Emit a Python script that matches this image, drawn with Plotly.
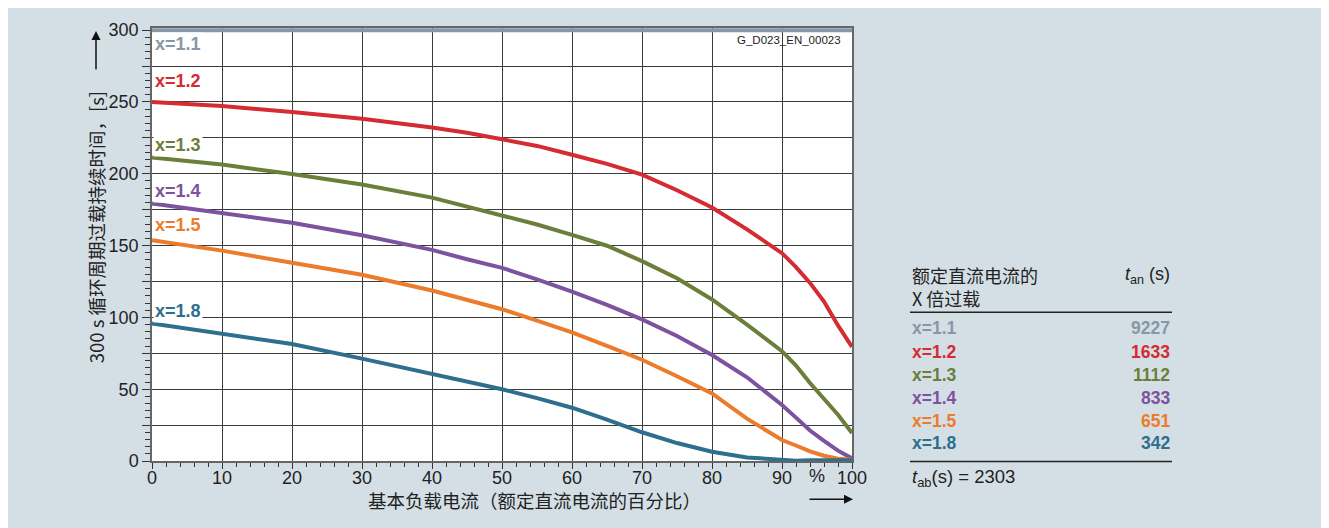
import plotly.graph_objects as go

# ---------------------------------------------------------------- data

load_pct = [0, 10, 20, 30, 40, 45, 50, 55, 60, 65, 70, 75, 80, 85, 90, 92, 94, 96, 98, 100]

t_x11 = [300] * len(load_pct)
t_x12 = [250, 247.2, 243, 238.3, 232.2, 228.5, 224, 219.4, 213.2, 206.9, 199.4,
         188.5, 176.5, 161.3, 144.7, 135, 124, 111, 94.4, 79.5]
t_x13 = [211.4, 206.4, 199.8, 192.5, 183.4, 177.2, 171.5, 164.7, 157.4, 149.9, 139.2,
         127.3, 112.5, 95, 76.5, 66.5, 54.3, 43.1, 32.2, 19.5]
t_x14 = [179.3, 172.7, 165.9, 157.2, 147, 140.5, 134.5, 126.5, 118, 108.7, 98.6,
         87.1, 73.8, 58.3, 39, 30.2, 21.2, 14, 7.2, 1.8]
t_x15 = [153.8, 146.5, 138, 129.7, 118.7, 112.5, 105.7, 97.8, 89.5, 80.2, 70.5,
         59, 47, 29.5, 14.6, 10.8, 6.7, 3.7, 1.6, 0.8]
t_x18 = [95.7, 88.8, 81.5, 71.3, 61, 55.5, 50, 43.8, 37.1, 28.8, 20,
         12.5, 6.4, 2.5, 0.7, 0.2, 0.6, 0.7, 0.6, 0.5]

factor_labels = ["x=1.1", "x=1.2", "x=1.3", "x=1.4", "x=1.5", "x=1.8"]
t_an = [9227, 1633, 1112, 833, 651, 342]
t_ab = 2303

x_ticks = list(range(0, 101, 10))
y_ticks = list(range(0, 301, 25))
y_ticktext = [str(v) if v % 50 == 0 else "" for v in y_ticks]

# ---------------------------------------------------------------- style

colors = ["#8698a8", "#d52b32", "#6b7f3b", "#7d529e", "#ec7b2c", "#2e6e8e"]
BG = "#d4dfe5"
INK = "#222"
NUM_FONT = "Liberation Sans, Arial, sans-serif"
CJK_FONT = "Noto Sans CJK SC, sans-serif"

PAGE = 8  # default body margin of the html page
W, H = 1329 - PAGE, 528 - PAGE
PLOT_X0, PLOT_X1, PLOT_Y0, PLOT_Y1 = 152, 852, 20, 461   # page pixels
L, T = PLOT_X0 - PAGE, PLOT_Y0 - PAGE
R, B = W + PAGE - PLOT_X1, H + PAGE - PLOT_Y1


def px(x):  # page column -> paper x
    return (x - PLOT_X0) / (PLOT_X1 - PLOT_X0)


def py(y):  # page row -> paper y
    return (PLOT_Y1 - y) / (PLOT_Y1 - PLOT_Y0)


def note(x, y, text, size=18, color=INK, family=NUM_FONT, xanchor="center", **kw):
    return dict(x=px(x), y=py(y), xref="paper", yref="paper", text=text,
                xanchor=xanchor, yanchor="middle", showarrow=False,
                font=dict(family=family, size=size, color=color), **kw)


fig = go.Figure()
for ys, c in zip([t_x11, t_x12, t_x13, t_x14, t_x15, t_x18], colors):
    fig.add_trace(go.Scatter(x=load_pct, y=ys, mode="lines",
                             line=dict(color=c, width=4), showlegend=False,
                             hoverinfo="skip"))

annotations = []

# curve labels inside the plot, left edge
label_y = [290.5, 264.5, 220, 188, 164, 104.6]
for lab, ly, c in zip(factor_labels, label_y, colors):
    annotations.append(dict(x=0, y=ly, xref="x", yref="y", text=f"<b>{lab}</b>",
                            xanchor="left", yanchor="middle", xshift=1, showarrow=False,
                            font=dict(family=NUM_FONT, size=18, color=c),
                            bgcolor="white", borderpad=1))

# drawing id (white patch behind it hides the grid, not the curves)
annotations.append(note(843, 32.5, "G_D023_EN_00023", size=11.5, xanchor="right"))

# axis titles + arrows
annotations.append(note(96, 223, "300 s 循环周期过载持续时间，[s]", size=18.5,
                        family=CJK_FONT, textangle=-90))
annotations.append(dict(x=px(96), y=py(23), xref="paper", yref="paper", text="",
                        showarrow=True, ax=0, ay=40, arrowhead=2, arrowsize=1.2,
                        arrowwidth=1.5, arrowcolor="#111", standoff=0))
annotations.append(note(534, 501, "基本负载电流（额定直流电流的百分比）", size=18.5,
                        family=CJK_FONT))
annotations.append(dict(x=px(853), y=py(500), xref="paper", yref="paper", text="",
                        showarrow=True, ax=-45, ay=0, arrowhead=2, arrowsize=1.2,
                        arrowwidth=1.5, arrowcolor="#111", standoff=0))
annotations.append(dict(x=95, y=py(476), xref="x", yref="paper", text="%",
                        xanchor="center", yanchor="middle", showarrow=False,
                        font=dict(family=NUM_FONT, size=18, color=INK)))

# side table
tx0, tx1 = 910, 1172
annotations.append(note(tx0, 283.5, "额定直流电流的<br>X 倍过载", family=CJK_FONT,
                        xanchor="left", align="left"))
annotations.append(note(tx1, 272, "<i>t</i><sub>an</sub> (s)", xanchor="right"))
row_y = [326, 349.5, 373, 396.5, 420.5, 443]
for lab, val, c, ry in zip(factor_labels, t_an, colors, row_y):
    annotations.append(note(tx0, ry, f"<b>{lab}</b>", size=17.5, color=c, xanchor="left"))
    annotations.append(note(tx1, ry, f"<b>{val}</b>", size=17.5, color=c, xanchor="right"))
annotations.append(note(tx0, 478, f"<i>t</i><sub>ab</sub>(s) = {t_ab}", size=18.5,
                        xanchor="left"))

shapes = [
    dict(type="line", xref="paper", yref="paper", x0=px(tx0), x1=px(tx1),
         y0=py(yy), y1=py(yy), line=dict(color=INK, width=1.3))
    for yy in (309.5, 461.5)
]
shapes.append(dict(type="rect", xref="paper", yref="paper", layer="between",
                   x0=px(736), x1=px(850), y0=py(47), y1=py(21),
                   fillcolor="white", line=dict(width=0)))

axis_common = dict(showgrid=True, gridcolor="#3c3c3c", gridwidth=1,
                   ticks="outside", tickcolor="#333", zeroline=False,
                   showline=True, linecolor="#666", linewidth=1.5, mirror=True,
                   tickfont=dict(family=NUM_FONT, size=18, color=INK))

fig.update_layout(
    width=W, height=H,
    margin=dict(l=L, r=R, t=T, b=B),
    paper_bgcolor=BG, plot_bgcolor="white",
    xaxis=dict(range=[0, 100], tickvals=x_ticks, ticklen=6, ticklabelstandoff=-6,
               minor=dict(dtick=2, ticks="outside", ticklen=4, tickcolor="#333",
                          showgrid=False),
               **axis_common),
    yaxis=dict(range=[0, 301.5], tickvals=y_ticks, ticktext=y_ticktext, ticklen=8,
               minor=dict(dtick=5, ticks="outside", ticklen=5, tickcolor="#333",
                          showgrid=False),
               **axis_common),
    annotations=annotations,
    shapes=shapes,
)

fig.write_html("out.html")
